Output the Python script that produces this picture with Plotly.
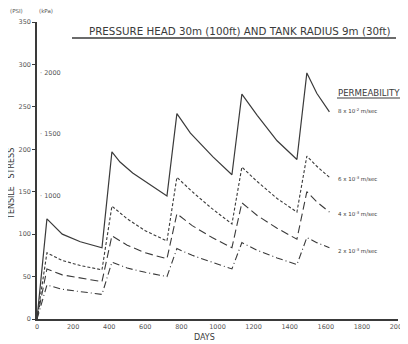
import plotly.graph_objects as go

# ---- data ----
days_8 = [0, 55, 140, 240, 360, 415, 460, 530, 720, 775, 850, 975, 1080, 1135, 1220, 1330, 1440, 1495, 1550, 1620]
psi_8 = [0, 118, 100, 91, 84, 197, 185, 172, 145, 242, 219, 191, 170, 265, 240, 210, 188, 290, 266, 244]

days_6 = [0, 55, 140, 240, 360, 415, 500, 600, 720, 775, 860, 970, 1080, 1135, 1220, 1330, 1440, 1495, 1550, 1620]
psi_6 = [0, 78, 69, 63, 58, 133, 118, 104, 92, 167, 150, 130, 112, 179, 162, 142, 126, 192, 180, 167]

days_4 = [0, 55, 140, 240, 360, 415, 500, 600, 720, 775, 860, 970, 1080, 1135, 1220, 1330, 1440, 1495, 1550, 1620]
psi_4 = [0, 59, 52, 48, 44, 98, 87, 78, 71, 124, 110, 96, 84, 137, 122, 107, 94, 150, 138, 126]

days_2 = [0, 55, 140, 240, 360, 415, 500, 600, 720, 775, 860, 970, 1080, 1135, 1220, 1330, 1440, 1495, 1550, 1620]
psi_2 = [0, 40, 35, 32, 29, 67, 60, 55, 50, 83, 75, 67, 59, 90, 81, 72, 64, 96, 90, 84]

x_ticks = [0, 200, 400, 600, 800, 1000, 1200, 1400, 1600, 1800, 2000]
y_ticks = [0, 50, 100, 150, 200, 250, 300, 350]
kpa_ticks = [1000, 1500, 2000]
KPA_TO_PSI = 0.145038

series_labels = ["8 x 10<sup>-2</sup> m/sec", "6 x 10<sup>-3</sup> m/sec",
                 "4 x 10<sup>-3</sup> m/sec", "2 x 10<sup>-3</sup> m/sec"]

FONT = "DejaVu Sans"
INK = "#3a3a3a"

fig = go.Figure()
styles = [
    (days_8, psi_8, "solid", 1.2),
    (days_6, psi_6, "3px,2px", 1.1),
    (days_4, psi_4, "8px,4px", 1.1),
    (days_2, psi_2, "7px,3px,1px,3px", 1.1),
]
for (dx, dy, dash, w), name in zip(styles, series_labels):
    fig.add_trace(go.Scatter(x=dx, y=dy, mode="lines", name=name,
                             line=dict(color=INK, width=w, dash=dash),
                             showlegend=False, hoverinfo="skip"))

# page has an 8px body margin, so the figure is drawn 8px in from the window corner
OFF = 8
W, H = 408 - OFF, 344 - OFF
L, R, T, B = 29, 10, 14, 25
pw, ph = W - L - R, H - T - B

def px(xp):
    return (xp - OFF - L) / pw

def py(yp):
    return (H - B - (yp - OFF)) / ph

fig.update_layout(
    width=W, height=H,
    margin=dict(l=L, r=R, t=T, b=B, pad=0, autoexpand=False),
    plot_bgcolor="white", paper_bgcolor="white",
    font=dict(family=FONT, color=INK, size=7),
    xaxis=dict(range=[0, 2000], tickvals=x_ticks, ticktext=[str(v) for v in x_ticks],
               showgrid=False, zeroline=False, showline=True, linecolor=INK, linewidth=2,
               ticks="", tickfont=dict(size=6.5, color="#555"), fixedrange=True, automargin=False),
    yaxis=dict(range=[0, 350], tickvals=y_ticks, ticktext=[str(v) for v in y_ticks],
               showgrid=False, zeroline=False, showline=True, linecolor=INK, linewidth=1.5,
               ticks="outside", ticklen=3, tickcolor=INK, tickfont=dict(size=6.5, color="#555"),
               fixedrange=True, automargin=False),
)

def note(xp, yp, text, size, xanchor="center", angle=0, color=INK):
    return dict(x=px(xp), y=py(yp), xref="paper", yref="paper", text=text, showarrow=False,
                xanchor=xanchor, yanchor="middle", textangle=angle,
                font=dict(size=size, color=color))

ann = []
# kPa secondary labels on the right side of the y axis
for k in kpa_ticks:
    ann.append(dict(x=0, y=k * KPA_TO_PSI, xref="x", yref="y", text="· " + str(k),
                    showarrow=False, xanchor="left", yanchor="middle", xshift=1,
                    font=dict(size=6.5, color="#555")))
ann.append(note(16, 11, "(PSI)", 5.5, color="#555"))
ann.append(note(46, 11, "(kPa)", 5.5, color="#555"))
ann.append(note(240, 31, "PRESSURE HEAD 30m (100ft) AND TANK RADIUS 9m (30ft)", 10.3))
ann.append(note(11, 184, "TENSILE   STRESS", 8, angle=-90))
ann.append(note(204, 337, "DAYS", 8))
ann.append(note(369, 93, "PERMEABILITY", 8.6))
for lab, yp in zip(series_labels, [111, 179, 213, 250]):
    ann.append(note(336, yp, lab, 5.5, xanchor="left"))
fig.update_layout(annotations=ann)

shapes = [
    dict(type="line", xref="paper", yref="paper", x0=px(72), x1=px(396), y0=py(38), y1=py(38),
         line=dict(color=INK, width=1.5)),
    dict(type="line", xref="paper", yref="paper", x0=px(337), x1=px(402), y0=py(98), y1=py(98),
         line=dict(color=INK, width=1)),
]
fig.update_layout(shapes=shapes)

fig.write_html("out.html")
